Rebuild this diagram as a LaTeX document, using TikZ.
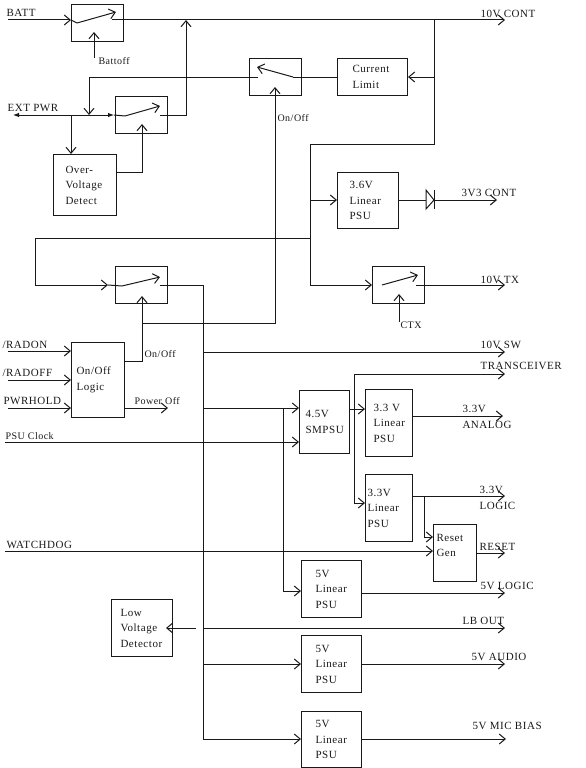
\documentclass[tikz,border=0pt]{standalone}
\usepackage{fontspec}
\setmainfont[LetterSpace=5]{Liberation Serif}
\usetikzlibrary{arrows.meta}

\tikzset{
  blockbox/.style={draw, anchor=north west, align=left, inner ysep=0pt},
  switchbox/.style={draw, anchor=north west, minimum width=52pt, minimum height=37pt},
  tag/.style={anchor=west, inner sep=0pt, align=left},
  smalltag/.style={anchor=west, inner sep=0pt, font=\fontsize{10}{12}\selectfont},
}

\begin{document}
\begin{tikzpicture}[x=1pt, y=-1pt, >={Straight Barb[length=6pt,width=10pt]}, line width=1pt,
    font=\fontsize{11}{15.5}\selectfont, color=black!90]
  \useasboundingbox (0,0) rectangle (586,768);

  % switches
  \node[switchbox] (swBatt) at (71,4) {};
  \node[switchbox] (swExt) at (115,96) {};
  \node[switchbox] (swLoop) at (249,58) {};
  \node[switchbox] (swMain) at (115,266) {};
  \node[switchbox] (swTx) at (372,266) {};

  % blocks
  \node[blockbox, minimum height=61pt, text width=39pt, inner xsep=12pt] (overVolt) at (53,154) {Over-\\Voltage\\Detect};
  \node[blockbox, minimum height=37pt, text width=40pt, inner xsep=15pt] (curLimit) at (337,58) {Current\\Limit};
  \node[blockbox, minimum height=56pt, text width=37pt, inner xsep=12pt] (psuCont) at (337,172) {3.6V\\Linear\\PSU};
  \node[blockbox, minimum height=75pt, text width=43pt, inner xsep=5pt] (onOff) at (71,342) {On/Off\\Logic};
  \node[blockbox, minimum height=63pt, text width=38pt, inner xsep=6pt] (smpsu) at (299,390) {4.5V\\SMPSU};
  \node[blockbox, minimum height=67pt, text width=31pt, inner xsep=8pt] (psuAnalog) at (365,389) {3.3 V\\Linear\\PSU};
  \node[blockbox, minimum height=67pt, text width=43pt, inner xsep=2pt] (psuLogic) at (365,474) {3.3V\\Linear\\PSU};
  \node[blockbox, minimum height=57pt, text width=37pt, inner xsep=3pt] (resetGen) at (433,524) {Reset\\Gen\\\mbox{}};
  \node[blockbox, minimum height=57pt, text width=32pt, inner xsep=14pt] (psuFive) at (301,560) {5V\\Linear\\PSU};
  \node[blockbox, minimum height=57pt, text width=43pt, inner xsep=9pt] (lowVolt) at (111,599) {Low\\Voltage\\Detector};
  \node[blockbox, minimum height=57pt, text width=32pt, inner xsep=14pt] (psuAudio) at (301,635) {5V\\Linear\\PSU};
  \node[blockbox, minimum height=56pt, text width=32pt, inner xsep=14pt] (psuMic) at (301,711) {5V\\Linear\\PSU};

  % labels
  \node[tag] (tBatt) at (6,13) {BATT};
  \node[smalltag] (tBattoff) at (98,61) {Battoff};
  \node[tag] (tExt) at (7,108) {EXT PWR};
  \node[smalltag] (tLoop) at (277,118) {On/Off};
  \node[tag] (tCont) at (480,14) {10V CONT};
  \node[tag] (tThree) at (461,193) {3V3 CONT};
  \node[tag] (tTx) at (480,280) {10V TX};
  \node[smalltag] (tCtx) at (400,325) {CTX};
  \node[tag] (tRadon) at (2,345) {/RADON};
  \node[tag] (tRadoff) at (2,373) {/RADOFF};
  \node[tag] (tHold) at (3,401) {PWRHOLD};
  \node[smalltag] (tClock) at (5,436) {PSU Clock};
  \node[smalltag] (tOn) at (144,354) {On/Off};
  \node[smalltag] (tPower) at (134,401) {Power Off};
  \node[tag] (tSw) at (480,345) {10V SW};
  \node[tag] (tTrans) at (480,366) {TRANSCEIVER};
  \node[tag] (tAnalog) at (462,417) {3.3V\\ANALOG};
  \node[tag] (tLogic) at (479,498) {3.3V\\LOGIC};
  \node[tag] (tReset) at (479,547) {RESET};
  \node[tag] (tWatch) at (6,545) {WATCHDOG};
  \node[tag] (tFive) at (480,586) {5V LOGIC};
  \node[tag] (tLb) at (462,621) {LB OUT};
  \node[tag] (tAudio) at (471,657) {5V AUDIO};
  \node[tag] (tMic) at (472,726) {5V MIC BIAS};

  % rails and branch points
  \coordinate (battIn) at (8,20);
  \coordinate (battBlade) at (77,23);
  \coordinate (battTip) at (116,12);
  \coordinate (battOut) at (112,20);
  \coordinate (contEnd) at (505,20);
  \coordinate (contTap) at (186,20);
  \coordinate (battCtl) at (94,58);
  \coordinate (battCtlTip) at (94,32);
  \coordinate (railA) at (434,20);
  \coordinate (railB) at (434,77);
  \coordinate (railC) at (434,144);
  \coordinate (railD) at (310,144);
  \coordinate (railE) at (310,238);
  \coordinate (railF) at (310,285);
  \coordinate (railG) at (310,200);
  \coordinate (railH) at (35,238);
  \coordinate (railI) at (35,285);
  \coordinate (mainIn) at (108,285);
  \coordinate (mainBlade) at (122,286);
  \coordinate (mainTip) at (160,277);
  \coordinate (mainOut) at (160,285);

  \coordinate (loopBlade) at (293,77);
  \coordinate (loopTip) at (257,67);
  \coordinate (loopOut) at (258,77);
  \coordinate (loopCorner) at (89,77);
  \coordinate (loopEnd) at (89,115);
  \coordinate (extL) at (13,115);
  \coordinate (extR) at (114,115);
  \coordinate (extBlade) at (125,116);
  \coordinate (extTip) at (160,106);
  \coordinate (extOut) at (160,115);
  \coordinate (extCorner) at (186,115);
  \coordinate (extTap) at (71,115);
  \coordinate (ovCorner) at (142,172);
  \coordinate (ovTip) at (142,124);

  \coordinate (txBlade) at (382,285);
  \coordinate (txTip) at (418,275);
  \coordinate (txOut) at (416,285);
  \coordinate (txEnd) at (505,285);
  \coordinate (ctxIn) at (399,322);
  \coordinate (ctxTip) at (399,294);

  \coordinate (diodeA) at (426,190);
  \coordinate (diodeB) at (426,209);
  \coordinate (diodeC) at (434,200);
  \coordinate (diodeD) at (434,190);
  \coordinate (diodeE) at (434,209);
  \coordinate (threeEnd) at (497,200);

  \coordinate (onCorner) at (142,361);
  \coordinate (onTap) at (142,323);
  \coordinate (onTip) at (142,296);
  \coordinate (loopCorner2) at (275,323);
  \coordinate (loopCtl) at (275,87);
  \coordinate (powerEnd) at (168,408);

  \coordinate (busTop) at (203,285);
  \coordinate (busSw) at (203,352);
  \coordinate (busSmps) at (203,408);
  \coordinate (busLow) at (203,628);
  \coordinate (busAudio) at (203,664);
  \coordinate (busMic) at (203,739);
  \coordinate (swEnd) at (505,352);
  \coordinate (fiveTap) at (283,408);
  \coordinate (fiveCorner) at (283,591);
  \coordinate (radonIn) at (8,351);
  \coordinate (radoffIn) at (8,380);
  \coordinate (holdIn) at (8,408);
  \coordinate (clockIn) at (5,442);
  \coordinate (watchIn) at (5,551);

  \coordinate (smpsOut) at (349,409);
  \coordinate (transCorner) at (354,374);
  \coordinate (transEnd) at (505,374);
  \coordinate (logicCorner) at (354,503);
  \coordinate (analogEnd) at (503,416);
  \coordinate (logicEnd) at (505,496);
  \coordinate (logicTap) at (424,496);
  \coordinate (resetCorner) at (424,537);
  \coordinate (resetEnd) at (505,553);
  \coordinate (fiveEnd) at (505,593);
  \coordinate (lbEnd) at (505,628);
  \coordinate (lbGap) at (196,628);
  \coordinate (lbTip) at (166,628);
  \coordinate (audioEnd) at (505,664);
  \coordinate (micEnd) at (506,739);

  % top rail
  \draw[->] (battIn) -- (battIn -| swBatt.west);
  \draw (battIn -| swBatt.west) -- (battBlade);
  \draw[->] (battBlade) -- (battTip);
  \draw[->] (battOut) -- (contEnd);
  \draw[->] (battCtl) -- (battCtlTip);
  \draw[->] (extOut) -- (extCorner) -- (contTap);

  % external supply
  \draw[{Latex[length=6pt]}-{Latex[length=6pt]}] (extL) -- (extR);
  \draw (extR) -- (extBlade);
  \draw[->] (extBlade) -- (extTip);
  \draw[->] (extTap) -- (extTap |- overVolt.north);
  \draw[->] (overVolt.east |- ovCorner) -- (ovCorner) -- (ovTip);

  % current limit loop
  \draw[->] (railB) -- (curLimit.east |- railB);
  \draw (curLimit.west |- railB) -- (loopBlade);
  \draw[->] (loopBlade) -- (loopTip);
  \draw[->] (loopOut) -- (loopCorner) -- (loopEnd);

  % feed to main switch and regulators
  \draw (railA) -- (railC) -- (railD) -- (railF);
  \draw[->] (railE) -- (railH) -- (railI) -- (mainIn);
  \draw (mainIn) -- (mainBlade);
  \draw[->] (mainBlade) -- (mainTip);
  \draw[->] (railG) -- (railG -| psuCont.west);
  \draw[->] (railF) -- (railF -| swTx.west);
  \draw[->] (txBlade) -- (txTip);
  \draw[->] (txOut) -- (txEnd);
  \draw[->] (ctxIn) -- (ctxTip);

  \draw (psuCont.east |- diodeC) -- (diodeA |- diodeC);
  \draw (diodeA) -- (diodeB) -- (diodeC) -- cycle;
  \draw (diodeD) -- (diodeE);
  \draw[->] (diodeC) -- (threeEnd);

  % on/off logic
  \draw[->] (radonIn) -- (radonIn -| onOff.west);
  \draw[->] (radoffIn) -- (radoffIn -| onOff.west);
  \draw[->] (holdIn) -- (holdIn -| onOff.west);
  \draw[->] (onOff.east |- onCorner) -- (onCorner) -- (onTip);
  \draw[->] (onTap) -- (loopCorner2) -- (loopCtl);
  \draw[->] (onOff.east |- powerEnd) -- (powerEnd);

  % distribution bus
  \draw (mainOut) -- (busTop) -- (busMic);
  \draw[->] (busSw) -- (swEnd);
  \draw[->] (busSmps) -- (busSmps -| smpsu.west);
  \draw[->] (clockIn) -- (clockIn -| smpsu.west);
  \draw[->] (fiveTap) -- (fiveCorner) -- (fiveCorner -| psuFive.west);
  \draw[->] (busAudio) -- (busAudio -| psuAudio.west);
  \draw[->] (busMic) -- (busMic -| psuMic.west);
  \draw[->] (busLow) -- (lbEnd);
  \draw[->] (lbGap) -- (lbTip);

  % smpsu outputs
  \draw[->] (smpsOut) -- (smpsOut -| psuAnalog.west);
  \draw[->] (transCorner) -- (transEnd);
  \draw[->] (transCorner) -- (logicCorner) -- (logicCorner -| psuLogic.west);
  \draw[->] (psuAnalog.east |- analogEnd) -- (analogEnd);
  \draw[->] (psuLogic.east |- logicEnd) -- (logicEnd);
  \draw[->] (logicTap) -- (resetCorner) -- (resetCorner -| resetGen.west);
  \draw[->] (watchIn) -- (watchIn -| resetGen.west);
  \draw[->] (resetGen.east |- resetEnd) -- (resetEnd);
  \draw[->] (psuFive.east |- fiveEnd) -- (fiveEnd);
  \draw[->] (psuAudio.east |- audioEnd) -- (audioEnd);
  \draw[->] (psuMic.east |- micEnd) -- (micEnd);
\end{tikzpicture}
\end{document}
